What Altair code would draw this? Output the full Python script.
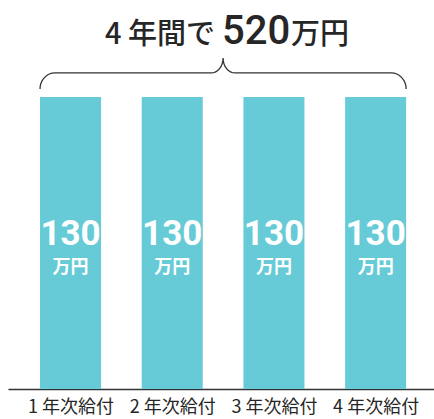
import json
import altair as alt
import pandas as pd

# ---- data ----
categories = ["1 年次給付", "2 年次給付", "3 年次給付", "4 年次給付"]
positions = [1, 2, 3, 4]
values = [130, 130, 130, 130]
unit = "万円"
title_prefix = "4 年間で"

total = sum(values)

# ---- style ----
bar_color = "#66CBD6"
text_color = "#262626"
line_color = "#333333"
W, H = 426, 389
x_dom = [0.385, 4.574]
half_bar = 0.3
px_per_unit = W / (x_dom[1] - x_dom[0])
y_max = max(values) * 389 / 292

df = pd.DataFrame({"pos": positions, "label": categories, "value": values})

x_scale = alt.Scale(domain=x_dom, nice=False, zero=False)
y_scale = alt.Scale(domain=[0, y_max], nice=False)

label_expr = json.dumps(categories, ensure_ascii=False) + "[datum.value - 1]"

bars = alt.Chart(df).transform_calculate(
    x0=f"datum.pos - {half_bar}", x1=f"datum.pos + {half_bar}"
).mark_bar(color=bar_color).encode(
    x=alt.X("x0:Q", scale=x_scale, axis=alt.Axis(
        values=positions, labelExpr=label_expr, title=None, ticks=False, grid=False,
        domainColor=line_color, domainWidth=1.3, labelFontSize=18,
        labelFont="Noto Sans CJK JP", labelColor=text_color, labelPadding=9,
        labelFlush=False, labelOverlap=False, labelBaseline="top")),
    x2="x1:Q",
    y=alt.Y("value:Q", scale=y_scale, axis=None),
    y2=alt.datum(0),
)

val_text = alt.Chart(df).transform_calculate(mid="datum.value / 2").mark_text(
    font="Roboto", fontSize=35, fontWeight="bold", color="white",
    baseline="middle", dy=-9,
).encode(x=alt.X("pos:Q", scale=x_scale), y=alt.Y("mid:Q", scale=y_scale), text="value:Q")

unit_text = alt.Chart(df).transform_calculate(mid="datum.value / 2").mark_text(
    font="Noto Sans CJK JP", fontSize=18, fontWeight="bold", color="white",
    baseline="middle", dy=25,
).encode(x=alt.X("pos:Q", scale=x_scale), y=alt.Y("mid:Q", scale=y_scale), text=alt.value(unit))

# ---- brace (custom symbol path, spans first bar left edge to last bar right edge) ----
half = ((positions[-1] + half_bar) - (positions[0] - half_bar)) / 2 * px_per_unit
k = 0.5523
r1x, r1y = 15, 16   # outer corners
r2x, r2y = 12, 15   # central cusp
pts = [
    ("M", [(-half, r1y)]),
    ("C", [(-half, r1y - r1y * k), (-half + r1x - r1x * k, 0), (-half + r1x, 0)]),
    ("L", [(-r2x, 0)]),
    ("C", [(-r2x + r2x * k, 0), (0, -r2y + r2y * k), (0, -r2y)]),
    ("C", [(0, -r2y + r2y * k), (r2x - r2x * k, 0), (r2x, 0)]),
    ("L", [(half - r1x, 0)]),
    ("C", [(half - r1x + r1x * k, 0), (half, r1y - r1y * k), (half, r1y)]),
]
path = " ".join(
    cmd + " ".join(f"{x / half:.5f},{y / half:.5f}" for x, y in p) for cmd, p in pts
)
brace_df = pd.DataFrame({"x": [sum(positions) / len(positions)], "y": [max(values)]})
brace = alt.Chart(brace_df).transform_calculate(yb="datum.y + 10.7").mark_point(
    shape=path, size=(2 * half) ** 2, filled=False, stroke=line_color,
    strokeWidth=1.3, opacity=1,
).encode(x=alt.X("x:Q", scale=x_scale), y=alt.Y("yb:Q", scale=y_scale))

# ---- title pieces ----
title_df = pd.DataFrame({"x": [sum(positions) / len(positions)], "y": [max(values)],
                         "total": [total]})
tbase = alt.Chart(title_df).transform_calculate(yt="datum.y + 23.6")
t1 = tbase.mark_text(font="Noto Sans CJK JP", fontSize=29, fontWeight=500, color=text_color,
                     align="right", baseline="alphabetic", dx=-8).encode(
    x=alt.X("x:Q", scale=x_scale), y=alt.Y("yt:Q", scale=y_scale), text=alt.value(title_prefix))
t2 = tbase.mark_text(font="Roboto", fontSize=40, fontWeight=500, color=text_color,
                     align="center", baseline="alphabetic", dx=33).encode(
    x=alt.X("x:Q", scale=x_scale), y=alt.Y("yt:Q", scale=y_scale), text="total:Q")
t3 = tbase.mark_text(font="Noto Sans CJK JP", fontSize=29, fontWeight=500, color=text_color,
                     align="left", baseline="alphabetic", dx=68).encode(
    x=alt.X("x:Q", scale=x_scale), y=alt.Y("yt:Q", scale=y_scale), text=alt.value(unit))

chart = alt.layer(bars, val_text, unit_text, brace, t1, t2, t3).properties(
    width=W, height=H,
    padding={"left": 8, "right": 0, "top": 0, "bottom": 30},
    autosize="none",
).configure_view(stroke=None)

chart.save("out.html", embed_options={"renderer": "svg", "actions": False})
